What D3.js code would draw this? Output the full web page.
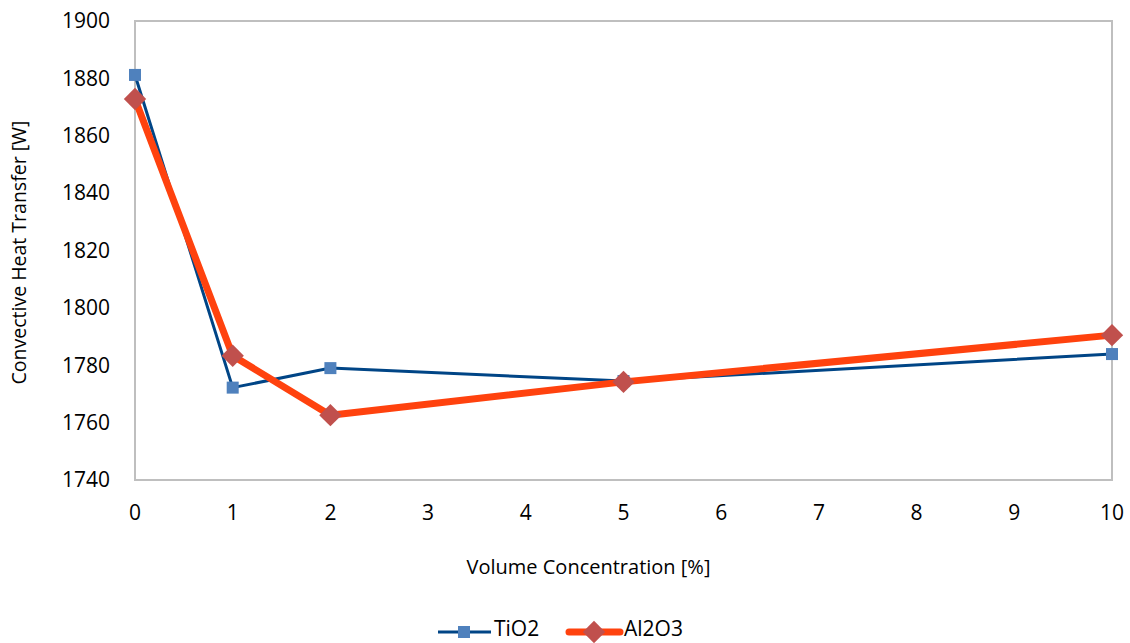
<!DOCTYPE html>
<html><head><meta charset="utf-8">
<script src="https://cdn.jsdelivr.net/npm/d3@7"></script>
<style>body{margin:0;background:#fff;font-family:"Open Sans",sans-serif;}</style>
</head><body>
<svg id="c" width="1130" height="643"></svg>
<script>
const xValues = [0, 1, 2, 5, 10];
const tio2 = [1881.2, 1772.2, 1779.0, 1774.5, 1783.9];
const al2o3 = [1872.8, 1783.3, 1762.6, 1774.2, 1790.5];
const xTicks = [0,1,2,3,4,5,6,7,8,9,10];
const yTicks = [1740,1760,1780,1800,1820,1840,1860,1880,1900];

const svg = d3.select("#c");
const L=135, R=1112, T=21, B=480;
const x = d3.scaleLinear().domain([0,10]).range([L,R]);
const y = d3.scaleLinear().domain([1740,1900]).range([B,T]);

svg.append("rect").attr("x",L).attr("y",T).attr("width",R-L).attr("height",B-T)
  .attr("fill","none").attr("stroke","#bfbfbf").attr("stroke-width",2);

const fs = "21px";
svg.append("g").selectAll("text").data(yTicks).join("text")
  .attr("x",L-25).attr("y",d=>y(d)).attr("dy","0.35em").attr("text-anchor","end")
  .attr("font-size",fs).attr("fill","#000").text(d=>d);
svg.append("g").selectAll("text").data(xTicks).join("text")
  .attr("x",d=>x(d)).attr("y",B+40).attr("text-anchor","middle")
  .attr("font-size",fs).attr("fill","#000").text(d=>d);

svg.append("text").attr("x",(L+R)/2-35).attr("y",574).attr("text-anchor","middle")
  .attr("font-size","20px").text("Volume Concentration [%]");
svg.append("text").attr("transform",`translate(26,${(T+B)/2+2}) rotate(-90)`).attr("text-anchor","middle")
  .attr("font-size","19.5px").text("Convective Heat Transfer [W]");

const line = d3.line().x((d,i)=>x(xValues[i])).y(d=>y(d));
svg.append("path").datum(tio2).attr("d",line).attr("fill","none").attr("stroke","#004586").attr("stroke-width",3);
svg.append("g").selectAll("rect").data(tio2).join("rect")
  .attr("x",(d,i)=>x(xValues[i])-6).attr("y",d=>y(d)-6).attr("width",12).attr("height",12).attr("fill","#4f81bd");
svg.append("path").datum(al2o3).attr("d",line).attr("fill","none").attr("stroke","#ff420e").attr("stroke-width",7).attr("stroke-linejoin","round");
svg.append("g").selectAll("path").data(al2o3).join("path")
  .attr("transform",(d,i)=>`translate(${x(xValues[i])},${y(d)}) rotate(45)`)
  .attr("d",d3.symbol().type(d3.symbolSquare).size(250)).attr("fill","#c0504d");

// legend
const ly = 632;
const lg = svg.append("g");
lg.append("line").attr("x1",438).attr("x2",491).attr("y1",ly).attr("y2",ly).attr("stroke","#004586").attr("stroke-width",3);
lg.append("rect").attr("x",458).attr("y",ly-6).attr("width",12).attr("height",12).attr("fill","#4f81bd");
lg.append("text").attr("x",494).attr("y",629).attr("dy","0.35em").attr("font-size",fs).text("TiO2");
lg.append("line").attr("x1",569).attr("x2",620).attr("y1",ly).attr("y2",ly).attr("stroke","#ff420e").attr("stroke-width",7).attr("stroke-linecap","round");
lg.append("path").attr("transform",`translate(594,${ly}) rotate(45)`).attr("d",d3.symbol().type(d3.symbolSquare).size(250)).attr("fill","#c0504d");
lg.append("text").attr("x",624).attr("y",629).attr("dy","0.35em").attr("font-size",fs).text("Al2O3");
</script>
</body></html>
